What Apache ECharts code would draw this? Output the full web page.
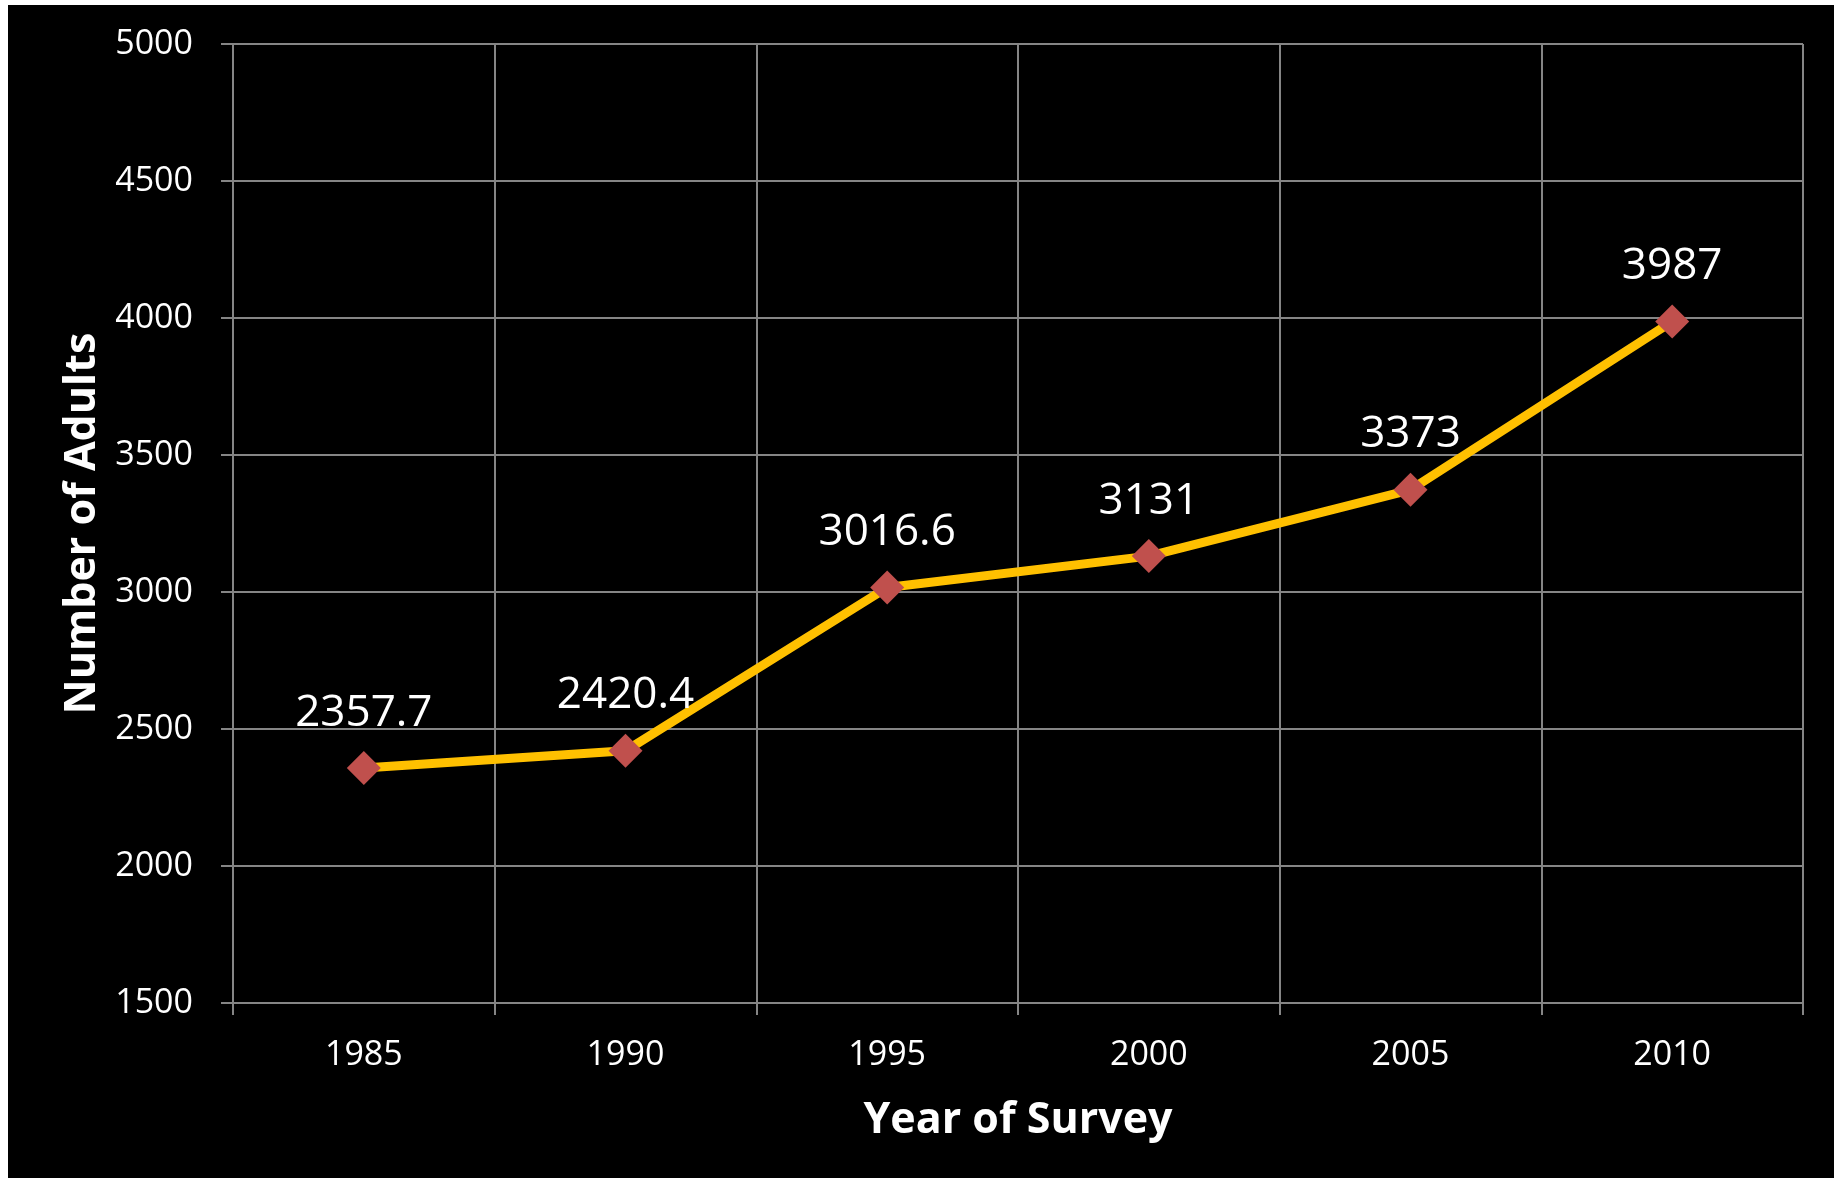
<!DOCTYPE html>
<html>
<head>
<meta charset="utf-8">
<script src="https://cdn.jsdelivr.net/npm/echarts@6/dist/echarts.min.js"></script>
<style>
html,body{margin:0;padding:0;background:#ffffff;width:1841px;height:1178px;overflow:hidden;}
#chart{position:absolute;left:8px;top:5px;width:1826px;height:1173px;background:#000000;}
</style>
</head>
<body>
<div id="chart"></div>
<script>
const years = ['1985', '1990', '1995', '2000', '2005', '2010'];
const adults = [2357.7, 2420.4, 3016.6, 3131, 3373, 3987];
const yTicks = { min: 1500, max: 5000, interval: 500 };
const xTitle = 'Year of Survey';
const yTitle = 'Number of Adults';

const gridColor = '#858585';
const font = 'Open Sans';
const chart = echarts.init(document.getElementById('chart'), null, { renderer: 'canvas' });
chart.setOption({
  backgroundColor: '#000000',
  animation: false,
  grid: { left: 225, top: 39, right: 31, bottom: 175, containLabel: false },
  xAxis: {
    type: 'category',
    data: years,
    boundaryGap: true,
    name: xTitle,
    nameLocation: 'middle',
    nameGap: 96,
    nameTextStyle: { color: '#ffffff', fontFamily: font, fontWeight: 'bold', fontSize: 43 },
    axisLine: { show: true, lineStyle: { color: gridColor, width: 2 } },
    axisTick: { show: true, alignWithLabel: false, length: 12, inside: false, lineStyle: { color: gridColor, width: 2 } },
    axisLabel: { color: '#ffffff', fontFamily: font, fontSize: 34, margin: 35, interval: 0 },
    splitLine: { show: true, interval: 0, lineStyle: { color: gridColor, width: 2 } }
  },
  yAxis: {
    type: 'value',
    min: yTicks.min,
    max: yTicks.max,
    interval: yTicks.interval,
    name: yTitle,
    nameLocation: 'middle',
    nameGap: 128,
    nameRotate: 90,
    nameTextStyle: { color: '#ffffff', fontFamily: font, fontWeight: 'bold', fontSize: 43 },
    axisLine: { show: true, lineStyle: { color: gridColor, width: 2 } },
    axisTick: { show: true, length: 12, inside: false, lineStyle: { color: gridColor, width: 2 } },
    axisLabel: { color: '#ffffff', fontFamily: font, fontSize: 34, margin: 40, formatter: function (v) { return String(v); } },
    splitLine: { show: true, lineStyle: { color: gridColor, width: 2 } }
  },
  series: [{
    type: 'line',
    data: adults,
    symbol: 'diamond',
    symbolSize: 34,
    lineStyle: { color: '#FFC000', width: 9 },
    itemStyle: { color: '#C0504D' },
    label: {
      show: true,
      position: 'top',
      distance: 16,
      color: '#ffffff',
      fontFamily: font,
      fontSize: 44
    },
    z: 3
  }]
});
</script>
</body>
</html>
